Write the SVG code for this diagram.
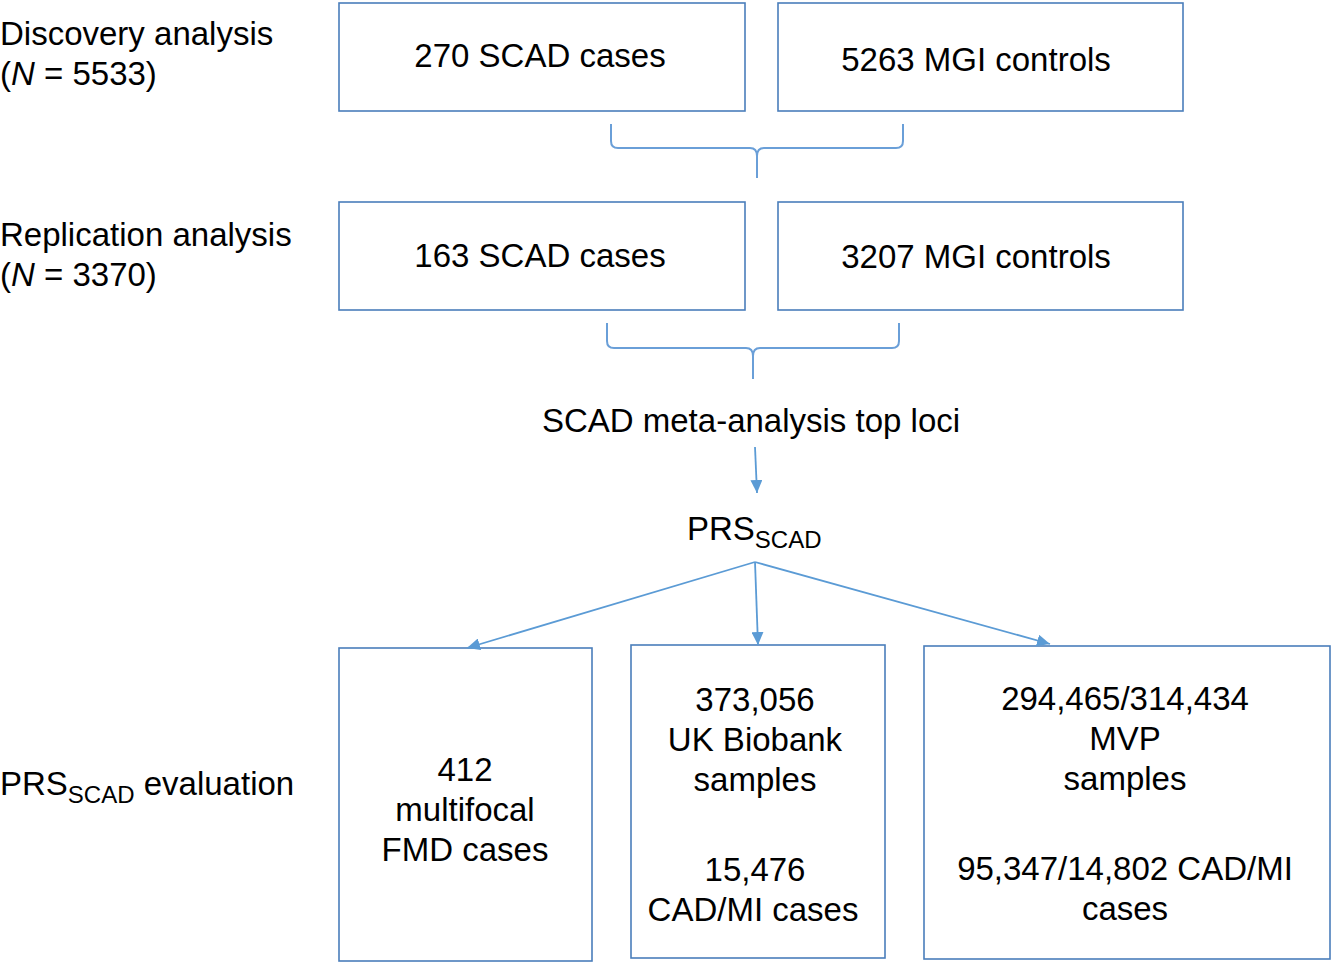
<svg xmlns="http://www.w3.org/2000/svg" width="1333" height="964" viewBox="0 0 1333 964">
<style>
.box{fill:#fff;stroke:#4a7ebb;stroke-width:1.6}
.t{font-family:"Liberation Sans",Arial,sans-serif;font-size:33px;fill:#000}
.c{text-anchor:middle}
.sub{font-size:24px}
.brace{fill:none;stroke:#6a9fd8;stroke-width:2}
.arr{fill:none;stroke:#5b9bd5;stroke-width:1.8;marker-end:url(#ah)}
</style>
<defs>
<marker id="ah" markerUnits="userSpaceOnUse" markerWidth="14" markerHeight="12" viewBox="0 0 14 12" refX="13" refY="6" orient="auto">
<path d="M0,0 L13,6 L0,12 Z" fill="#5b9bd5"/>
</marker>
</defs>
<rect width="1333" height="964" fill="#fff"/>
<g id="label-discovery">
<text class="t" x="0" y="45">Discovery analysis</text>
<text class="t" x="0" y="85">(<tspan font-style="italic">N</tspan> = 5533)</text>
</g>
<g id="label-replication">
<text class="t" x="0" y="246">Replication analysis</text>
<text class="t" x="0" y="286">(<tspan font-style="italic">N</tspan> = 3370)</text>
</g>
<g id="label-evaluation">
<text class="t" x="0" y="795">PRS<tspan class="sub" dy="8">SCAD</tspan><tspan dy="-8"> evaluation</tspan></text>
</g>
<g id="n-scad-cases-1">
<rect class="box" x="339" y="3" width="406" height="108"/>
<text class="t c" x="540" y="67">270 SCAD cases</text>
</g>
<g id="n-mgi-controls-1">
<rect class="box" x="778" y="3" width="405" height="108"/>
<text class="t c" x="976" y="71">5263 MGI controls</text>
</g>
<g id="n-scad-cases-2">
<rect class="box" x="339" y="202" width="406" height="108"/>
<text class="t c" x="540" y="267">163 SCAD cases</text>
</g>
<g id="n-mgi-controls-2">
<rect class="box" x="778" y="202" width="405" height="108"/>
<text class="t c" x="976" y="268">3207 MGI controls</text>
</g>
<g id="n-meta">
<text class="t c" x="751" y="432">SCAD meta-analysis top loci</text>
</g>
<g id="n-prs">
<text class="t" x="687" y="540">PRS<tspan class="sub" dy="8">SCAD</tspan></text>
</g>
<g id="n-fmd">
<rect class="box" x="339" y="648" width="253" height="313"/>
<text class="t c" x="465" y="781">412</text>
<text class="t c" x="465" y="821">multifocal</text>
<text class="t c" x="465" y="861">FMD cases</text>
</g>
<g id="n-ukb">
<rect class="box" x="631" y="645" width="254" height="313"/>
<text class="t c" x="755" y="711">373,056</text>
<text class="t c" x="755" y="751">UK Biobank</text>
<text class="t c" x="755" y="791">samples</text>
<text class="t c" x="755" y="881">15,476</text>
<text class="t c" x="753" y="921">CAD/MI cases</text>
</g>
<g id="n-mvp">
<rect class="box" x="924" y="646" width="406" height="313"/>
<text class="t c" x="1125" y="710">294,465/314,434</text>
<text class="t c" x="1125" y="750">MVP</text>
<text class="t c" x="1125" y="790">samples</text>
<text class="t c" x="1125" y="880">95,347/14,802 CAD/MI</text>
<text class="t c" x="1125" y="920">cases</text>
</g>
<g id="connectors">
<path class="brace" d="M611,124 L611,141 Q611,148 618,148 L750,148 Q757,148 757,156 L757,178 M757,156 Q757,148 764,148 L896,148 Q903,148 903,141 L903,124"/>
<path class="brace" d="M607,323 L607,341 Q607,348 614,348 L746,348 Q753,348 753,356 L753,379 M753,356 Q753,348 760,348 L892,348 Q899,348 899,341 L899,323"/>
<line class="arr" x1="755" y1="447" x2="757" y2="493"/>
<line class="arr" x1="755" y1="562" x2="467" y2="648"/>
<line class="arr" x1="755" y1="562" x2="758" y2="645"/>
<line class="arr" x1="755" y1="562" x2="1050" y2="644"/>
</g>
</svg>
